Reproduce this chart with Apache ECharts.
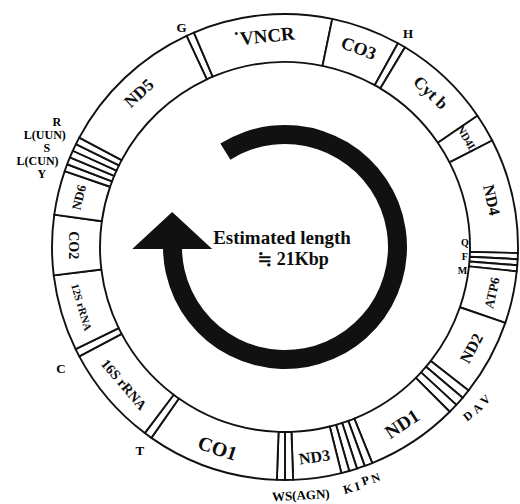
<!DOCTYPE html>
<html>
<head>
<meta charset="utf-8">
<script src="https://cdn.jsdelivr.net/npm/echarts@6/dist/echarts.min.js"></script>
<style>
  html, body { margin: 0; background: #fff; }
  #chart { width: 520px; height: 504px; }
</style>
</head>
<body>
<div id="chart"></div>
<script>
// genes clockwise from tRNA-G, arc widths (degrees)
const genes = ['G', 'VNCR', 'CO3', 'H', 'Cyt b', 'ND4L', 'ND4', 'Q', 'F', 'M', 'ATP6', 'ND2',
  'V', 'A', 'D', 'ND1', 'N', 'P', 'I', 'K', 'ND3', 'S(AGN)', 'W', 'CO1', 'T', '16S rRNA',
  'C', '12S rRNA', 'CO2', 'ND6', 'Y', 'L(CUN)', 'S', 'L(UUN)', 'R', 'ND5'];
const arcDeg = [2, 34.7, 17.3, 2, 24.7, 7.1, 28.7, 1.5, 1.5, 1.5, 13, 19,
  2.33, 2.33, 2.34, 23, 2, 2, 2, 2, 12, 2, 2, 33, 2, 25,
  2, 19, 15, 11, 1.8, 1.8, 1.8, 1.8, 1.8, 37];
const trnas = ['G', 'H', 'Q', 'F', 'M', 'V', 'A', 'D', 'N', 'P', 'I', 'K', 'S(AGN)', 'W',
  'T', 'C', 'Y', 'L(CUN)', 'S', 'L(UUN)', 'R'];
const startDeg = 335; // position of G, clockwise from 12 o'clock
const centreText = ['Estimated length', '≒ 21Kbp'];

const CX = 285, CY = 247;
const FONT = '"Liberation Serif", "DejaVu Serif", serif';

// font size of gene names in the ring
const geneFont = {
  'VNCR': 19, 'CO3': 18, 'Cyt b': 17, 'ND4L': 11, 'ND4': 16, 'ATP6': 13, 'ND2': 16,
  'ND1': 19, 'ND3': 16, 'CO1': 20, '16S rRNA': 14, '12S rRNA': 11, 'CO2': 14,
  'ND6': 13, 'ND5': 17
};
// tRNA letters: [angle shift, radius, rotate, align, font size]
const trnaPlace = {
  'G': [-1.2, 243, 0, 'center', 13], 'H': [0, 246, 0, 'center', 13],
  'Q': [-3.8, 180, 0, 'center', 10], 'F': [-0.8, 180, 0, 'center', 10], 'M': [2.2, 179, 0, 'center', 10],
  'V': [-1.8, 252, 42, 'center', 12], 'A': [-1.5, 251, 42, 'center', 12], 'D': [-1.1, 249, 38, 'center', 12],
  'N': [-0.4, 248, 21, 'center', 12], 'P': [0, 247, 19, 'center', 12], 'I': [0.2, 250, 17, 'center', 12],
  'K': [0.4, 250, 15, 'center', 12],
  'W': [2, 250, 3, 'left', 13],
  'T': [-0.5, 250, 0, 'center', 13], 'C': [-1.5, 255, 0, 'center', 13],
  'Y': [-3.2, 254, 0, 'center', 12], 'L(CUN)': [-2.5, 262, 0, 'center', 12], 'S': [-0.9, 258, 0, 'center', 12],
  'L(UUN)': [-0.3, 265, 0, 'center', 12], 'R': [1.6, 260, 0, 'center', 12]
};
const trnaText = { 'W': 'WS(AGN)', 'S(AGN)': '' };

const mid = {};
let acc = startDeg;
genes.forEach(function (g, i) {
  mid[g] = acc + arcDeg[i] / 2;
  acc += arcDeg[i];
});

const ringData = genes.map(function (g, i) {
  if (trnas.indexOf(g) >= 0) {
    return { name: g, value: arcDeg[i], label: { show: false } };
  }
  const lab = { fontSize: geneFont[g] };
  if (g === 'CO2') lab.rotate = -90; // runs downwards in the original
  if (g === 'VNCR') lab.formatter = '˙VNCR';
  return { name: g, value: arcDeg[i], label: lab };
});

const trnaData = trnas.filter(function (t) {
  return trnaText[t] !== '';
}).map(function (t) {
  const p = trnaPlace[t];
  return {
    name: t,
    value: [p[1], (mid[t] + p[0] + 360) % 360],
    label: { formatter: trnaText[t] || t, rotate: p[2], align: p[3], fontSize: p[4] }
  };
});

const chart = echarts.init(document.getElementById('chart'), null, { renderer: 'svg' });
chart.setOption({
  backgroundColor: '#fff',
  animation: false,
  polar: { center: [CX, CY], radius: 300 },
  angleAxis: { type: 'value', min: 0, max: 360, startAngle: 90, clockwise: true, show: false },
  radiusAxis: { type: 'value', min: 0, max: 300, show: false },
  graphic: [
    { type: 'text', x: 282, y: 237, style: { text: centreText[0], font: 'bold 19px ' + FONT, fill: '#0d0d0d', align: 'center', verticalAlign: 'middle' } },
    { type: 'text', x: 293, y: 259, style: { text: centreText[1], font: 'bold 18px ' + FONT, fill: '#0d0d0d', align: 'center', verticalAlign: 'middle' } }
  ],
  series: [
    {
      type: 'pie',
      center: [CX, CY],
      radius: [185, 233],
      startAngle: 90 - startDeg,
      clockwise: true,
      avoidLabelOverlap: false,
      silent: true,
      emphasis: { disabled: true },
      itemStyle: { color: '#fff', borderColor: '#111', borderWidth: 1.9 },
      label: {
        show: true, position: 'inside', rotate: 'tangential',
        color: '#0d0d0d', fontFamily: FONT, fontWeight: 'bold'
      },
      labelLine: { show: false },
      data: ringData
    },
    {
      // circular arrow body
      type: 'pie',
      center: [CX, CY],
      radius: [103, 122],
      startAngle: 90 - 328,
      clockwise: true,
      silent: true,
      emphasis: { disabled: true },
      label: { show: false },
      labelLine: { show: false },
      data: [
        { value: 302, itemStyle: { color: '#111' } },
        { value: 58, itemStyle: { color: 'rgba(0,0,0,0)' } }
      ]
    },
    {
      // arrow head
      type: 'scatter',
      coordinateSystem: 'polar',
      clip: false,
      silent: true,
      z: 5,
      symbol: 'triangle',
      symbolSize: [80, 37],
      itemStyle: { color: '#111', opacity: 1 },
      data: [[114, 278.3]]
    },
    {
      type: 'scatter',
      coordinateSystem: 'polar',
      clip: false,
      silent: true,
      symbolSize: 0,
      itemStyle: { opacity: 1 },
      label: {
        show: true, position: 'inside', color: '#000',
        fontFamily: FONT, fontWeight: 'bold', verticalAlign: 'middle'
      },
      data: trnaData
    }
  ]
});
</script>
</body>
</html>
